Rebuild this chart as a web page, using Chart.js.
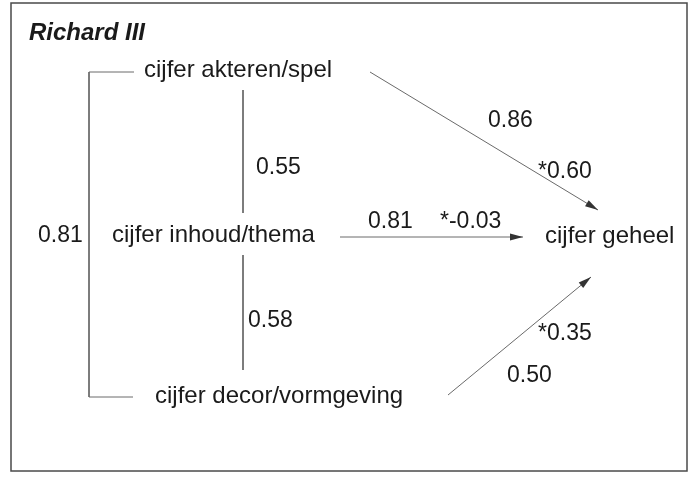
<!DOCTYPE html>
<html>
<head>
<meta charset="utf-8">
<script src="https://cdn.jsdelivr.net/npm/chart.js@4/dist/chart.umd.min.js"></script>
<style>
  html, body { margin: 0; padding: 0; background: #fff; }
  #diagram { display: block; }
</style>
</head>
<body>
<canvas id="diagram" width="700" height="480"></canvas>
<script>
// data
const title = 'Richard III';
const nodeNames = ['cijfer akteren/spel', 'cijfer inhoud/thema', 'cijfer decor/vormgeving', 'cijfer geheel'];
const correlations = [0.55, 0.58, 0.81];   // akteren-inhoud, inhoud-decor, akteren-decor
const zeroOrder = [0.86, 0.81, 0.50];      // r with cijfer geheel
const betas = [0.60, -0.03, 0.35];         // beta with cijfer geheel

// layout (in scale units: 0..700 x 0..480)
const nodePos = [[144, 77], [112, 242], [155, 403], [545, 243]];
const corrPos = [[256, 174], [248, 327], [38, 242]];
const zeroPos = [[488, 127], [368, 228], [507, 382]];
const betaPos = [[538, 178], [440, 228], [538, 340]];
const bracket = [[134, 72], [89, 72], [89, 397], [133, 397]];
const connectors = [
  [[243, 90], [243, 213]],
  [[243, 255], [243, 370]]
];
const arrows = [
  [[370, 72], [598, 210]],
  [[340, 237], [523, 237]],
  [[448, 395], [591, 277]]
];

const lineColor = '#6a6a6a';
const textColor = '#1a1a1a';

function toPts(arr) {
  return arr.map(p => ({ x: p[0], y: p[1] }));
}

function lineSet(arr) {
  return {
    data: toPts(arr),
    showLine: true,
    borderColor: lineColor,
    borderWidth: 1,
    pointRadius: 0,
    fill: false,
    tension: 0
  };
}

const datasets = [lineSet(bracket)]
  .concat(connectors.map(lineSet))
  .concat(arrows.map(lineSet));

const fmt = v => v.toFixed(2);

const diagramPlugin = {
  id: 'diagram',
  beforeDraw(chart) {
    const c = chart.ctx;
    c.save();
    c.fillStyle = '#fff';
    c.fillRect(0, 0, chart.width, chart.height);
    c.restore();
  },
  afterDraw(chart) {
    const c = chart.ctx;
    const xs = chart.scales.x;
    const ys = chart.scales.y;
    const px = v => xs.getPixelForValue(v);
    const py = v => ys.getPixelForValue(v);

    c.save();
    // frame
    c.strokeStyle = '#4a4a4a';
    c.lineWidth = 1.5;
    c.strokeRect(px(11), py(3), px(687) - px(11), py(471) - py(3));

    // arrowheads
    c.fillStyle = '#333';
    arrows.forEach(a => {
      const x0 = px(a[0][0]), y0 = py(a[0][1]);
      const x1 = px(a[1][0]), y1 = py(a[1][1]);
      const ang = Math.atan2(y1 - y0, x1 - x0);
      const len = 13, half = 3.5;
      c.beginPath();
      c.moveTo(x1, y1);
      c.lineTo(x1 - len * Math.cos(ang) + half * Math.sin(ang), y1 - len * Math.sin(ang) - half * Math.cos(ang));
      c.lineTo(x1 - len * Math.cos(ang) - half * Math.sin(ang), y1 - len * Math.sin(ang) + half * Math.cos(ang));
      c.closePath();
      c.fill();
    });

    c.fillStyle = textColor;
    c.textBaseline = 'alphabetic';
    c.textAlign = 'left';

    c.font = 'bold italic 24px "Liberation Sans", Arial, sans-serif';
    c.fillText(title, px(29), py(40));

    c.font = '24px "Liberation Sans", Arial, sans-serif';
    nodeNames.forEach((n, i) => c.fillText(n, px(nodePos[i][0]), py(nodePos[i][1])));

    c.font = '23px "Liberation Sans", Arial, sans-serif';
    correlations.forEach((v, i) => c.fillText(fmt(v), px(corrPos[i][0]), py(corrPos[i][1])));
    zeroOrder.forEach((v, i) => c.fillText(fmt(v), px(zeroPos[i][0]), py(zeroPos[i][1])));
    betas.forEach((v, i) => c.fillText('*' + fmt(v), px(betaPos[i][0]), py(betaPos[i][1])));
    c.restore();
  }
};

new Chart(document.getElementById('diagram'), {
  type: 'scatter',
  data: { datasets: datasets },
  options: {
    responsive: false,
    animation: false,
    layout: { padding: 0 },
    plugins: {
      legend: { display: false },
      tooltip: { enabled: false }
    },
    scales: {
      x: { type: 'linear', min: 0, max: 700, display: false },
      y: { type: 'linear', min: 0, max: 480, reverse: true, display: false }
    }
  },
  plugins: [diagramPlugin]
});
</script>
</body>
</html>
